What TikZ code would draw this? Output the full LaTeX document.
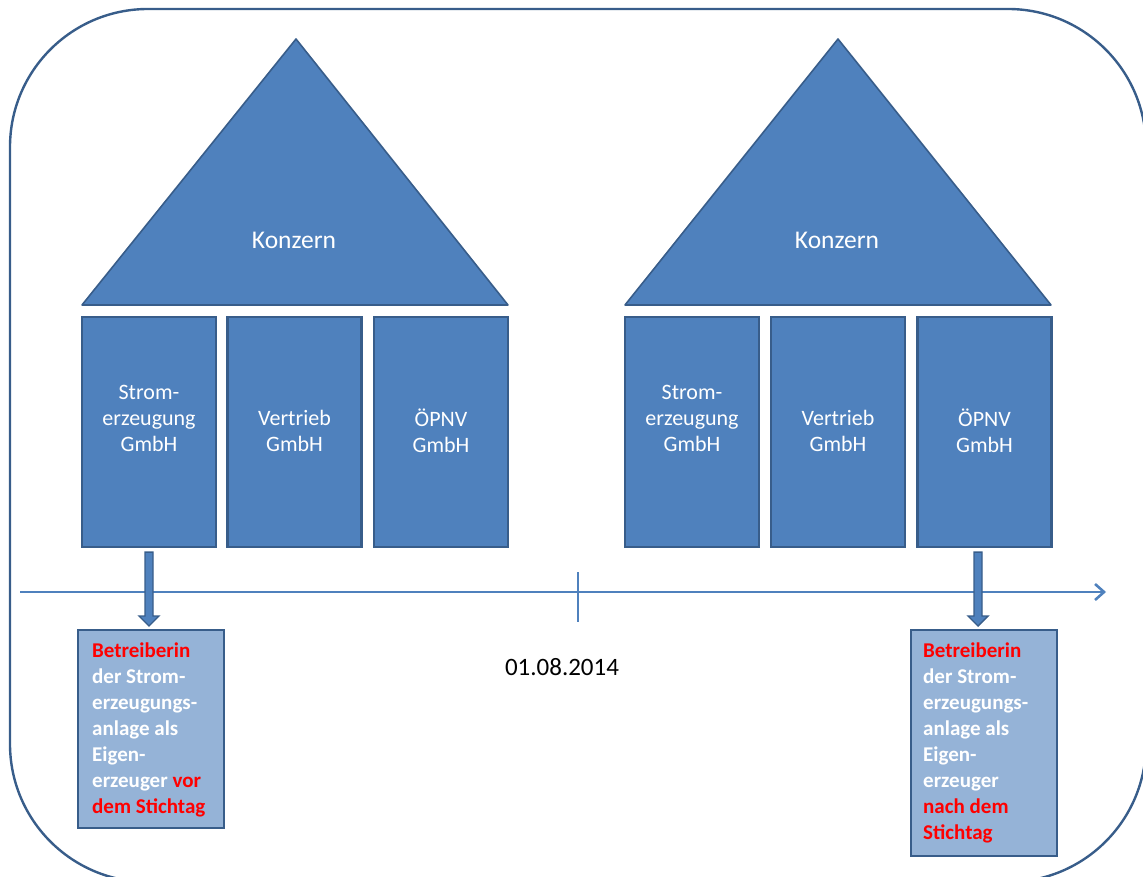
\documentclass[tikz,border=0pt]{standalone}
\usepackage{fontspec}
\setmainfont{Carlito}
\usetikzlibrary{calc,arrows.meta}
\definecolor{unitfill}{HTML}{4F81BD}
\definecolor{unitline}{HTML}{385D8A}
\definecolor{notefill}{HTML}{95B3D7}
\definecolor{alertred}{HTML}{FF0000}
\tikzset{
  roof/.style={fill=unitfill, draw=unitline, line width=1.6pt, line join=round},
  unit/.style={rectangle, fill=unitfill, draw=unitline, line width=2.2pt,
    minimum width=134pt, minimum height=230pt, inner sep=0pt},
  unitlabel/.style={text=white, align=center, inner sep=0pt,
    font=\fontsize{22}{26}\selectfont},
  roofLabel/.style={text=white, inner sep=0pt, font=\fontsize{25.5}{30}\selectfont},
  note/.style={rectangle, fill=notefill, draw=unitline, line width=2.2pt,
    minimum width=146pt, inner sep=0pt},
  notetext/.style={text=white, align=left, inner sep=0pt,
    font=\bfseries\fontsize{21}{26}\selectfont},
  blockarrow/.style={fill=unitfill, draw=unitline, line width=1.4pt, line join=miter},
  timeline/.style={draw=unitfill, line width=2.6pt},
}
\begin{document}
\begin{tikzpicture}[x=1pt,y=-1pt]
  \useasboundingbox (0,0) rectangle (1143,877);
  \clip (0,0) rectangle (1143,877);

  % outer frame
  \draw[unitline, line width=2.4pt, rounded corners=138pt] (10,9) rectangle (1146,882);

  % roofs
  \draw[roof] (82,305) -- (296,39) -- (508,305) -- cycle;
  \node[roofLabel] (k1) at (294,240) {Konzern};
  \draw[roof] (625,305) -- (838,39) -- (1051,305) -- cycle;
  \node[roofLabel] (k2) at (837,240) {Konzern};

  % subsidiaries, left group
  \node[unit] (s1) at (149,432) {};
  \node[unit] (v1) at (294.5,432) {};
  \node[unit] (o1) at (441,432) {};
  % subsidiaries, right group
  \node[unit] (s2) at (692,432) {};
  \node[unit] (v2) at (838,432) {};
  \node[unit] (o2) at (984.5,432) {};

  \node[unitlabel] (s1t) at (149,418) {Strom-\\erzeugung\\GmbH};
  \node[unitlabel] (v1t) at (294.5,431) {Vertrieb\\GmbH};
  \node[unitlabel] (o1t) at (441,431) {ÖPNV\\GmbH};
  \node[unitlabel] (s2t) at (692,418) {Strom-\\erzeugung\\GmbH};
  \node[unitlabel] (v2t) at (838,431) {Vertrieb\\GmbH};
  \node[unitlabel] (o2t) at (984.5,431) {ÖPNV\\GmbH};

  % notes below the timeline
  \node[note, minimum height=198pt, anchor=north west] (n1) at (77,629) {};
  \node[note, minimum height=226pt, anchor=north west] (n2) at (910,629) {};

  \node[notetext, anchor=north west] (n1t) at (92,643)
    {\textcolor{alertred}{Betreiberin}\\der Strom-\\erzeugungs-\\anlage als\\Eigen-\\erzeuger \textcolor{alertred}{vor}\\\textcolor{alertred}{dem Stichtag}};
  \node[notetext, anchor=north west] (n2t) at (923,643)
    {\textcolor{alertred}{Betreiberin}\\der Strom-\\erzeugungs-\\anlage als\\Eigen-\\erzeuger\\\textcolor{alertred}{nach dem}\\\textcolor{alertred}{Stichtag}};

  % timeline
  \coordinate (tl0) at (20,592);
  \coordinate (tl1) at (1106,592);
  \draw[timeline, -{Straight Barb[length=9pt,width=16pt]}] (tl0) -- (tl1);
  \coordinate (tick) at (578,592);
  \draw[timeline] ($(tick)+(0,-20)$) -- ($(tick)+(0,30)$);
  \node[font=\fontsize{25}{30}\selectfont, inner sep=0pt] (date) at (562,667) {01.08.2014};

  % block arrows from subsidiary to note
  \path (s1.south) ++(0,4) coordinate (a1s);
  \path (a1s |- n1.north) ++(0,-3) coordinate (a1e);
  \draw[blockarrow] ($(a1s)+(-4,0)$) -- ($(a1s)+(4,0)$) -- ($(a1e)+(4,-10)$) -- ($(a1e)+(10,-10)$)
    -- (a1e) -- ($(a1e)+(-10,-10)$) -- ($(a1e)+(-4,-10)$) -- cycle;
  \path (o2.south) ++(-6.5,4) coordinate (a2s);
  \path (a2s |- n2.north) ++(0,-3) coordinate (a2e);
  \draw[blockarrow] ($(a2s)+(-4,0)$) -- ($(a2s)+(4,0)$) -- ($(a2e)+(4,-10)$) -- ($(a2e)+(10,-10)$)
    -- (a2e) -- ($(a2e)+(-10,-10)$) -- ($(a2e)+(-4,-10)$) -- cycle;
\end{tikzpicture}
\end{document}
